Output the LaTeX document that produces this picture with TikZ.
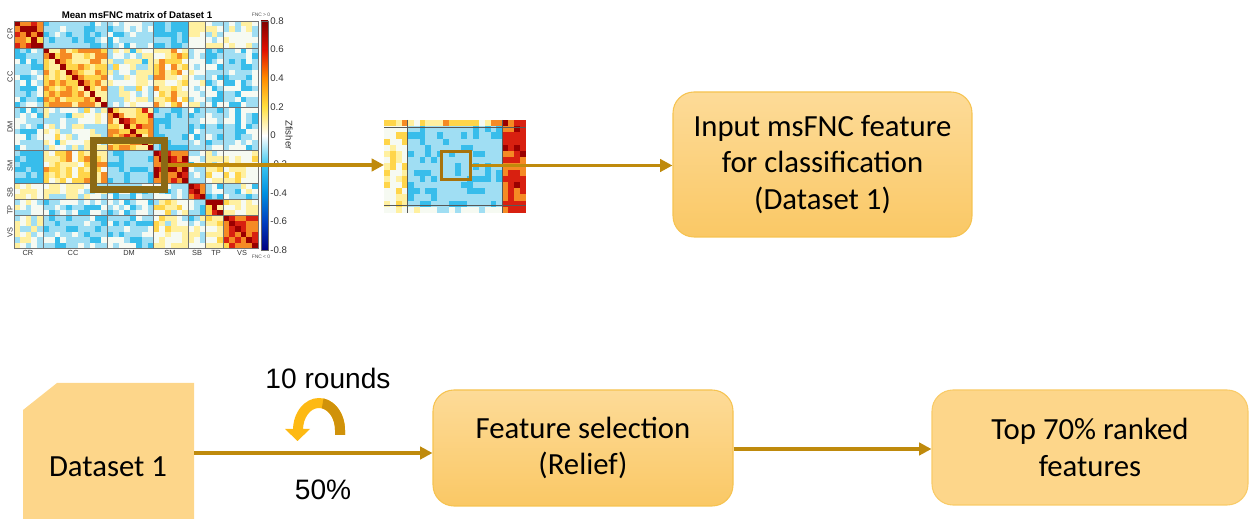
\documentclass[tikz,border=0pt]{standalone}
\usepackage{fontspec}
\setmainfont{Carlito}
\newfontfamily\arialf{Liberation Sans}
\usetikzlibrary{arrows.meta,calc}
\definecolor{arrowc}{HTML}{BF8A0C}
\definecolor{hlc}{HTML}{8B6914}
\definecolor{sqc}{HTML}{A8730C}
\definecolor{boxtop}{HTML}{FDDB98}
\definecolor{boxbot}{HTML}{FAC865}
\definecolor{boxline}{HTML}{F6C350}
\definecolor{flatfill}{HTML}{FDD68A}
\definecolor{goldA}{HTML}{FDB913}
\definecolor{goldB}{HTML}{D0920A}
\definecolor{hm0}{HTML}{0030A0}
\definecolor{hm1}{HTML}{0078D4}
\definecolor{hm2}{HTML}{38BDEB}
\definecolor{hm3}{HTML}{A0DEF3}
\definecolor{hm4}{HTML}{F6FAF2}
\definecolor{hm5}{HTML}{FFF0A0}
\definecolor{hm6}{HTML}{FFD54A}
\definecolor{hm7}{HTML}{F58A24}
\definecolor{hm8}{HTML}{D82010}
\definecolor{hm9}{HTML}{9A0000}
\definecolor{cb8}{HTML}{800000}
\definecolor{cb6}{HTML}{E01000}
\definecolor{cb4}{HTML}{FF8C00}
\definecolor{cb2}{HTML}{FFE040}
\definecolor{cb0}{HTML}{FFFFFF}
\definecolor{cbm2}{HTML}{40C8F0}
\definecolor{cbm4}{HTML}{0090E0}
\definecolor{cbm6}{HTML}{0040C0}
\definecolor{cbm8}{HTML}{000080}
\newcommand\boxfont{\fontsize{17.5}{21}\selectfont}
\newcommand\modidx[2]{\pgfmathtruncatemacro{#1}{(#2>=5)+(#2>=16)+(#2>=24)+(#2>=30)+(#2>=33)+(#2>=36)}}
\def\Barr{{3.5,-1.1,-0.9,-1.8,0.5,0,0, -1.1,2,0,1.6,0,-0.9,-1.1, -0.9,0,2.2,-1.3,-0.9,-0.9,-0.9, -1.8,1.6,-1.3,3.8,-0.7,0.7,0.6, 0.5,0,-0.9,-0.7,4,-0.9,-0.4, 0,-0.9,-0.9,0.7,-0.9,3,0.8, 0,-1.1,-0.9,0.6,-0.4,0.8,3.5}}
\def\Narr{{1.5,0.9,1,0.7,1,1.4,1.4, 0.9,1.5,1.6,1.5,1.4,1.1,0.9, 1,1.6,1.5,0.7,0.9,1.1,1.3, 0.7,1.5,0.7,1,1,1.4,1.2, 1,1.4,0.9,1,1,1,1.4, 1.4,1.1,1.1,1.4,1,2,1, 1.4,0.9,1.3,1.2,1.4,1,1.2}}
\begin{document}
\begin{tikzpicture}[x=0.02cm,y=-0.02cm,
  flow/.style={draw=arrowc, line width=1.8pt, -{Triangle[length=7pt,width=7pt]}},
  gradbox/.style={rounded corners=0.42cm, top color=boxtop, bottom color=boxbot, draw=boxline, line width=0.6pt, align=center, font=\boxfont, inner sep=0pt},
  flatbox/.style={rounded corners=0.42cm, fill=flatfill, draw=boxline!60!flatfill, line width=0.6pt, align=center, font=\boxfont, inner sep=0pt},
  lbl/.style={font=\arialf\fontsize{16}{19}\selectfont},
  mlab/.style={font=\arialf\fontsize{4.2}{5}\selectfont, text=black!80, inner sep=0pt},
  cblab/.style={font=\arialf\fontsize{5.5}{6}\selectfont, text=black!80, anchor=west, inner sep=0pt},
  tiny/.style={font=\arialf\fontsize{2.8}{3}\selectfont, text=black!70, inner sep=0pt},
  modline/.style={draw=black!55, line width=0.35pt}]
\useasboundingbox (0,0) rectangle (1250,519);
% ---------------- heat map ----------------
\pgfmathsetseed{12345}
\foreach \i in {0,...,41}{
  \foreach \j in {0,...,41}{
    \modidx{\mi}{\i}
    \modidx{\mj}{\j}
    \pgfmathtruncatemacro{\idx}{\mi*7+\mj}
    \pgfmathsetmacro{\bb}{\Barr[\idx]}
    \pgfmathsetmacro{\nn}{\Narr[\idx]}
    \pgfmathtruncatemacro{\lv}{max(0,min(9,round(\bb+\nn*rand)+4))}
    \ifnum\i=\j \def\lv{9}\fi
    \fill[hm\lv] (14+\j*5.81,21+\i*5.405) rectangle ++(5.95,5.55);
  }
}
\foreach \k in {5,16,24,30,33,36}{
  \draw[modline] (14+\k*5.81,21) -- (14+\k*5.81,248);
  \draw[modline] (14,21+\k*5.405) -- (258,21+\k*5.405);
}
\draw[modline] (14,21) rectangle (258,248);
% colour bar
\shade[top color=cb8,bottom color=cb6] (261,21) rectangle (268,49.6);
\shade[top color=cb6,bottom color=cb4] (261,49.6) rectangle (268,78.2);
\shade[top color=cb4,bottom color=cb2] (261,78.2) rectangle (268,106.9);
\shade[top color=cb2,bottom color=cb0] (261,106.9) rectangle (268,135.5);
\shade[top color=cb0,bottom color=cbm2] (261,135.5) rectangle (268,164.1);
\shade[top color=cbm2,bottom color=cbm4] (261,164.1) rectangle (268,192.7);
\shade[top color=cbm4,bottom color=cbm6] (261,192.7) rectangle (268,221.4);
\shade[top color=cbm6,bottom color=cbm8] (261,221.4) rectangle (268,250);
\draw[black!60, line width=0.3pt] (261,21) rectangle (268,250);
\node[cblab] (t1) at (270,21) {0.8};
\node[cblab] (t2) at (270,49.6) {0.6};
\node[cblab] (t3) at (270,78.2) {0.4};
\node[cblab] (t4) at (270,106.9) {0.2};
\node[cblab] (t5) at (270,135.5) {0};
\node[cblab] (t6) at (270,164.1) {-0.2};
\node[cblab] (t7) at (270,192.7) {-0.4};
\node[cblab] (t8) at (270,221.4) {-0.6};
\node[cblab] (t9) at (270,250) {-0.8};
\node[cblab, anchor=center, rotate=-90] (zf) at (289,135) {Zfisher};
\node[tiny] (fp) at (261,15) {FNC > 0};
\node[tiny] (fn) at (261,257) {FNC < 0};
\node[font=\arialf\bfseries\fontsize{5.5}{6}\selectfont, inner sep=0pt] (title) at (137,15) {Mean msFNC matrix of Dataset 1};
% module labels
\node[mlab] (bx1) at (28,253) {CR};
\node[mlab] (bx2) at (73,253) {CC};
\node[mlab] (bx3) at (129,253) {DM};
\node[mlab] (bx4) at (170,253) {SM};
\node[mlab] (bx5) at (197,253) {SB};
\node[mlab] (bx6) at (216,253) {TP};
\node[mlab] (bx7) at (242,253) {VS};
\node[mlab, rotate=90] (ly1) at (10,34) {CR};
\node[mlab, rotate=90] (ly2) at (10,77) {CC};
\node[mlab, rotate=90] (ly3) at (10,127) {DM};
\node[mlab, rotate=90] (ly4) at (10,166) {SM};
\node[mlab, rotate=90] (ly5) at (10,193) {SB};
\node[mlab, rotate=90] (ly6) at (10,210) {TP};
\node[mlab, rotate=90] (ly7) at (10,233) {VS};
% highlight
\node[draw=hlc, line width=4pt, minimum width=71*0.02cm, minimum height=49*0.02cm, inner sep=0pt] (hl) at (129,165) {};
% ---------------- zoomed crop ----------------
\pgfmathsetseed{777}
\foreach \i in {0,...,14}{
  \foreach \j in {0,...,23}{
    \pgfmathsetmacro{\bb}{ifthenelse(\j>=20,3.8,ifthenelse(\i==0,1.6,ifthenelse(\i==14,0.2,ifthenelse(\j<4,1.0,-1.2))))}
    \pgfmathsetmacro{\nn}{ifthenelse(\j>=20,1,ifthenelse(\i==0,1.5,ifthenelse(\i==14,1,ifthenelse(\j<4,1.4,0.7))))}
    \pgfmathtruncatemacro{\lv}{max(0,min(9,round(\bb+\nn*rand)+4))}
    \fill[hm\lv] (384+\j*5.917,120+\i*6.2) rectangle ++(6,6.3);
  }
}
\draw[black!65, line width=0.5pt] (407,120) -- (407,213) (502,120) -- (502,213) (384,127) -- (526,127) (384,205) -- (526,205);
\node[minimum width=142*0.02cm, minimum height=93*0.02cm, inner sep=0pt, outer sep=0pt] (crop) at (455,166.5) {};
\node[draw=sqc, line width=1.7pt, minimum width=29*0.02cm, minimum height=28*0.02cm, inner sep=0pt] (sq) at (456,165.5) {};
% ---------------- top box ----------------
\node[gradbox, minimum width=299*0.02cm, minimum height=145*0.02cm] (inbox) at (822.5,164.5) {Input msFNC feature\\for classification\\(Dataset 1)};
\draw[flow] (hl.east) -- (hl.east -| crop.west);
\draw[flow] (sq.east) -- (sq.east -| inbox.west);
% ---------------- bottom row ----------------
\fill[flatfill] (23,410) -- (57,383) -- (194,383) -- (194,519) -- (23,519) -- cycle;
\node[font=\boxfont, inner sep=0pt] (ds) at (108,467) {Dataset 1};
\coordinate (dsE) at (194,453);
\node[gradbox, minimum width=300*0.02cm, minimum height=116*0.02cm] (fs) at (583,448) {Feature selection\\(Relief)};
\node[flatbox, minimum width=316*0.02cm, minimum height=115*0.02cm] (top) at (1090,447.5) {Top 70\% ranked\\features};
\draw[flow] (dsE) -- (dsE -| fs.west);
\draw[flow] (fs.east |- 0,449) -- (top.west |- 0,449);
\node[lbl] (rounds) at (328,378) {10 rounds};
\node[lbl] (pct) at (323,490) {50\%};
% curved arrow
\fill[goldA] (345,435) -- (345,430) arc[start angle=0,end angle=-180,x radius=26,y radius=32] -- (293,429) -- (285,429) -- (297.5,441) -- (310,429) -- (303,429) -- (303,430) arc[start angle=-180,end angle=0,x radius=16,y radius=22] -- (335,435) -- cycle;
\fill[goldB] (345,435) -- (345,430) arc[start angle=0,end angle=-80,x radius=26,y radius=32] -- (321.8,408.3) arc[start angle=-80,end angle=0,x radius=16,y radius=22] -- (335,435) -- cycle;
\end{tikzpicture}
\end{document}
